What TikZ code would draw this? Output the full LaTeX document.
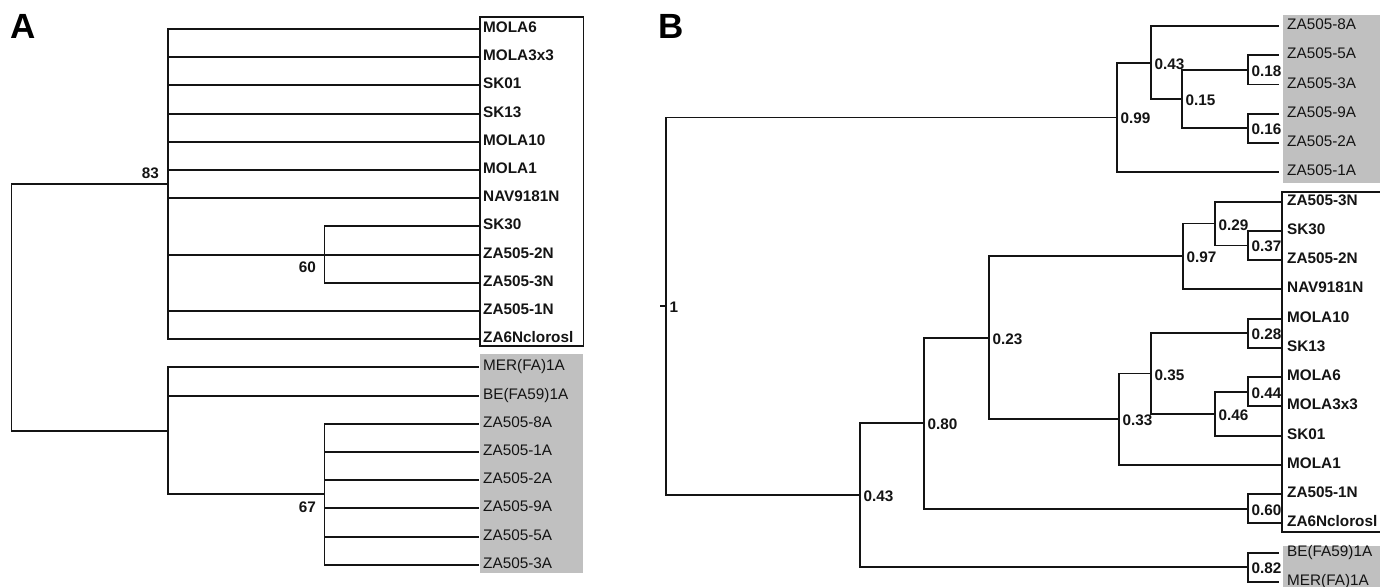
\documentclass[tikz,border=0pt]{standalone}
\usepackage{fontspec}
\setmainfont{Liberation Sans}
\definecolor{boxgray}{RGB}{192,192,192}
\definecolor{ink}{RGB}{20,20,20}
\tikzset{
  br/.style={draw=ink, line width=1.9pt},
  leafw/.style={anchor=base west, inner sep=0pt, font=\fontsize{15.3}{18}\selectfont\bfseries, text=ink},
  leafg/.style={anchor=base west, inner sep=0pt, font=\fontsize{15.3}{18}\selectfont, text=ink},
  suppR/.style={anchor=base west, inner sep=0pt, font=\fontsize{15.3}{18}\selectfont\bfseries, text=ink},
  suppL/.style={anchor=base east, inner sep=0pt, font=\fontsize{15.3}{18}\selectfont\bfseries, text=ink},
  panel/.style={anchor=base west, inner sep=0pt, font=\fontsize{35}{40}\selectfont\bfseries, text=black},
  wbox/.style={draw=ink, line width=1.7pt},
  gbox/.style={fill=boxgray},
}
\begin{document}
\begin{tikzpicture}[x=1pt,y=-1pt]
\clip (0,0) rectangle (1380,586);
\fill[white] (0,0) rectangle (1380,586);

% ---------- boxes ----------
\fill[gbox] (480.3,354) rectangle (582.5,572.7);
\draw[wbox] (480.3,16.7) rectangle (583.6,346);
\fill[gbox] (1283,15) rectangle (1395,183);
\fill[gbox] (1283,546) rectangle (1395,600);
\draw[wbox] (1282,192) rectangle (1395,532);

% ---------- panel letters ----------
\node[panel] (pA) at (10,39) {A};
\node[panel] (pB) at (658,39) {B};

% ---------- panel A leaves ----------
\foreach \i/\t in {0/MOLA6,1/MOLA3x3,2/SK01,3/SK13,4/MOLA10,5/MOLA1,6/NAV9181N,7/SK30,8/ZA505-2N,9/ZA505-3N,10/ZA505-1N,11/ZA6Nclorosl}{
  \pgfmathsetmacro\yy{29+28.2*\i}
  \coordinate (ae\i) at (481,\yy);
  \node[leafw] (al\i) at (483,\yy+3.5) {\t};
}
\foreach \i/\t in {12/{MER(FA)1A},13/{BE(FA59)1A},14/ZA505-8A,15/ZA505-1A,16/ZA505-2A,17/ZA505-9A,18/ZA505-5A,19/ZA505-3A}{
  \pgfmathsetmacro\yy{29+28.2*\i}
  \coordinate (ae\i) at (479,\yy);
  \node[leafg] (al\i) at (483,\yy+3.5) {\t};
}

% ---------- panel A internal nodes ----------
\coordinate (n83) at (167.6,184.1);
\coordinate (n60) at (324.5,254.6);
\coordinate (ngA) at (167.6,430.85);
\coordinate (n67) at (324.5,494.3);
\coordinate (rA) at (11.5,307.5);

\draw[br] (rA) |- (n83);
\draw[br] (rA) |- (ngA);
\foreach \k in {0,1,2,3,4,5,6,8,10,11}{\draw[br] (n83) |- (ae\k);}
\draw[br] (n83) |- (n60);
\foreach \k in {7,9}{\draw[br] (n60) |- (ae\k);}
\foreach \k in {12,13}{\draw[br] (ngA) |- (ae\k);}
\draw[br] (ngA) |- (n67);
\foreach \k in {14,...,19}{\draw[br] (n67) |- (ae\k);}

\node[suppL] (l83) at (159,178) {83};
\node[suppL] (l60) at (316,272) {60};
\node[suppL] (l67) at (316,512) {67};

% ---------- panel B leaves ----------
\foreach \i/\t in {0/ZA505-8A,1/ZA505-5A,2/ZA505-3A,3/ZA505-9A,4/ZA505-2A,5/ZA505-1A,18/{BE(FA59)1A},19/{MER(FA)1A}}{
  \pgfmathsetmacro\yy{26+29.26*\i}
  \coordinate (be\i) at (1279,\yy);
  \node[leafg] (bl\i) at (1287,\yy+3.5) {\t};
}
\foreach \i/\t in {6/ZA505-3N,7/SK30,8/ZA505-2N,9/NAV9181N,10/MOLA10,11/SK13,12/MOLA6,13/MOLA3x3,14/SK01,15/MOLA1,16/ZA505-1N,17/ZA6Nclorosl}{
  \pgfmathsetmacro\yy{26+29.26*\i}
  \coordinate (be\i) at (1281,\yy);
  \node[leafw] (bl\i) at (1287,\yy+3.5) {\t};
}

% ---------- panel B internal nodes ----------
\coordinate (b018) at (1248,69.9);
\coordinate (b016) at (1248,128.4);
\coordinate (b015) at (1182,99.15);
\coordinate (b043t) at (1151,62.6);
\coordinate (b099) at (1117,117.45);
\coordinate (b037) at (1248,245.45);
\coordinate (b029) at (1215,223.5);
\coordinate (b097) at (1183,256.4);
\coordinate (b028) at (1248,333.25);
\coordinate (b044) at (1248,391.75);
\coordinate (b046) at (1215,413.7);
\coordinate (b035) at (1151,373.5);
\coordinate (b033) at (1119,419.2);
\coordinate (b023) at (989,337.8);
\coordinate (b060) at (1248,508.8);
\coordinate (b080) at (924,423.3);
\coordinate (b082) at (1248,567.35);
\coordinate (b043b) at (860,495.3);
\coordinate (bR) at (666,306.4);
\coordinate (bS) at (660,306.4);

\draw[br] (bS) -- (bR);
\foreach \p/\c in {bR/b099,bR/b043b,b099/b043t,b099/be5,b043t/be0,b043t/b015,b015/b018,b015/b016,b018/be1,b018/be2,b016/be3,b016/be4,b043b/b080,b043b/b082,b080/b023,b080/b060,b023/b097,b023/b033,b097/b029,b097/be9,b029/be6,b029/b037,b037/be7,b037/be8,b033/b035,b033/be15,b035/b028,b035/b046,b028/be10,b028/be11,b046/b044,b046/be14,b044/be12,b044/be13,b060/be16,b060/be17,b082/be18,b082/be19}{
  \draw[br] (\p) |- (\c);
}

\foreach \n/\t in {b099/0.99,b043t/0.43,b015/0.15,b018/0.18,b016/0.16,b097/0.97,b029/0.29,b037/0.37,b023/0.23,b028/0.28,b035/0.35,b044/0.44,b046/0.46,b033/0.33,b080/0.80,b060/0.60,b043b/0.43,b082/0.82,bR/1}{
  \node[suppR] (t\n) at ([shift={(3.5,6.5)}]\n) {\t};
}
\end{tikzpicture}
\end{document}
